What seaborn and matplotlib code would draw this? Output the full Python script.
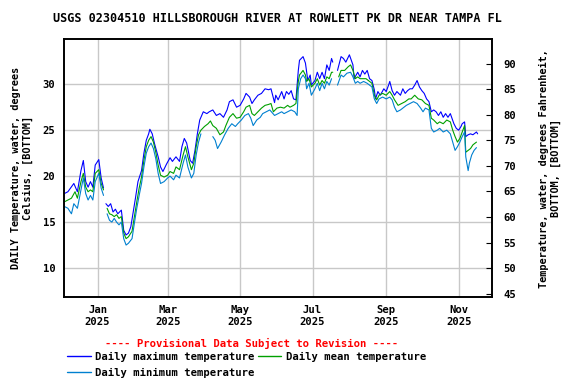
import matplotlib
matplotlib.use('Agg')
import matplotlib.pyplot as plt
import matplotlib.dates as mdates
from matplotlib.lines import Line2D
import seaborn as sns
import numpy as np
import pandas as pd

# day offsets from 2025-01-01, values in deg C (NaN = gap in record)
max_days = [-28, -25, -20, -17, -14, -12, -10, -8, -6, -4, -2, 1, 3, 5, 6, 7, 9, 11, 13, 15,
            17, 20, 22, 24, 26, 28, 30, 32, 34, 37, 39, 41, 43, 44, 46, 48, 51, 53, 55, 58,
            61, 63, 66, 69, 71, 73, 75, 78, 80, 82, 84, 86, 89, 92, 94, 97, 100, 103, 106, 109,
            111, 114, 117, 120, 123, 125, 128, 130, 132, 135, 138, 141, 144, 146, 149, 150, 152, 155, 157, 159,
            161, 163, 165, 167, 169, 170, 173, 175, 177, 179, 180, 183, 185, 187, 189, 191, 193, 195, 197, 198,
            200, 202, 205, 207, 209, 212, 215, 216, 219, 221, 223, 225, 227, 229, 231, 233, 234, 236, 238, 241,
            243, 245, 246, 248, 250, 252, 255, 257, 259, 261, 263, 265, 267, 269, 271, 273, 275, 277, 279, 281,
            283, 285, 287, 289, 291, 293, 295, 297, 300, 302, 304, 306, 307, 309, 310, 312, 314, 316, 319, 320]
max_temp = [18.1, 18.3, 19.2, 18.3, 20.6, 21.7, 19.4, 18.8, 19.4, 18.8, 21.2, 21.8, 19.8, 18.7, np.nan, 17.0, 16.7, 17.0, 16.1, 16.4,
            15.9, 16.3, 14.1, 13.6, 13.8, 14.5, 16.1, 17.7, 19.4, 20.6, 22.5, 23.9, 24.6, 25.1, 24.6, 23.5, 22.1, 21.0, 20.5, 21.3,
            22.0, 21.6, 22.1, 21.6, 23.2, 24.1, 23.6, 21.7, 21.4, 22.8, 24.6, 26.1, 27.0, 26.8, 27.0, 27.2, 26.6, 26.8, 26.4, 27.2,
            28.1, 28.3, 27.5, 27.7, 28.4, 29.0, 28.6, 27.9, 28.3, 28.8, 29.0, 29.5, 29.4, 29.5, 28.0, 28.8, 28.3, 29.2, 28.4, 29.2,
            28.9, 29.3, 28.4, 28.3, 31.5, 32.6, 33.0, 32.3, 30.4, 31.0, 29.9, 30.4, 31.3, 30.6, 31.3, 30.6, 32.1, 31.5, 32.8, 32.4,
            np.nan, 31.5, 33.0, 32.8, 32.4, 33.2, 32.1, 30.6, 31.3, 30.8, 31.5, 31.1, 31.5, 30.6, 30.4, 29.4, 28.4, 29.2, 28.8, 29.5,
            29.2, 29.9, 30.3, 29.3, 28.8, 29.2, 28.8, 29.5, 29.0, 29.3, 29.5, 29.5, 29.9, 30.4, 29.7, 29.3, 29.0, 28.4, 28.1, 27.0,
            27.2, 27.0, 26.6, 27.0, 26.4, 26.8, 26.4, 26.8, 25.7, 25.2, 25.0, 25.4, 25.7, 25.9, 24.3, 24.5, 24.6, 24.5, 24.8, 24.6]

mean_days = [-28, -25, -22, -19, -17, -14, -12, -10, -8, -6, -4, -2, 1, 3, 5, 6, 8, 10, 12, 14,
             16, 18, 20, 22, 24, 26, 29, 31, 33, 35, 37, 39, 41, 43, 45, 47, 49, 51, 53, 56,
             59, 61, 64, 66, 69, 72, 74, 76, 79, 81, 83, 85, 87, 90, 93, 95, 97, 100, 103, 106,
             108, 111, 114, 117, 120, 123, 125, 128, 130, 132, 135, 138, 141, 144, 146, 148, 151, 154, 157, 160,
             162, 165, 167, 169, 170, 173, 175, 176, 178, 180, 183, 185, 187, 189, 191, 193, 195, 197, 198, 200,
             203, 205, 208, 211, 213, 215, 217, 219, 221, 223, 226, 229, 231, 233, 235, 237, 240, 243, 246, 248,
             250, 253, 256, 259, 262, 264, 267, 270, 273, 276, 279, 281, 283, 286, 288, 291, 294, 297, 299, 301,
             303, 305, 307, 309, 310, 312, 314, 316, 319]
mean_temp = [17.2, 17.4, 17.6, 18.3, 17.6, 19.4, 20.3, 18.8, 18.3, 18.5, 18.3, 20.3, 20.7, 19.2, 18.5, np.nan, 16.5, 15.9, 15.8, 15.6,
             15.8, 15.4, 15.6, 13.8, 13.2, 13.4, 14.0, 15.6, 17.2, 18.7, 19.9, 21.7, 23.2, 23.9, 24.3, 23.7, 22.6, 21.2, 20.1, 19.9,
             20.1, 20.5, 20.3, 21.0, 20.7, 22.3, 23.2, 22.1, 20.7, 21.4, 23.2, 24.5, 25.0, 25.4, 25.7, 26.0, 25.5, 25.2, 24.5, 24.8,
             25.5, 26.4, 26.8, 26.3, 26.4, 27.0, 27.5, 27.7, 26.8, 26.6, 27.0, 27.4, 27.7, 27.8, 27.9, 27.0, 27.4, 27.5, 27.4, 27.7,
             27.5, 27.7, 27.9, 30.3, 31.0, 31.5, 31.0, 30.3, 30.6, 29.7, 30.1, 30.6, 29.9, 30.4, 30.1, 30.8, 30.6, 31.3, 31.3, np.nan,
             30.8, 31.5, 31.5, 31.9, 32.1, 31.5, 30.6, 30.8, 30.6, 30.6, 30.6, 30.3, 30.1, 28.8, 28.3, 28.8, 29.0, 28.8, 29.2, 28.8,
             28.3, 27.7, 27.9, 28.1, 28.4, 28.4, 28.8, 28.4, 28.3, 27.9, 27.7, 26.3, 26.1, 25.7, 25.9, 25.7, 26.1, 25.9, 25.0, 24.3,
             23.7, 24.1, 24.8, 25.5, 22.6, 22.8, 23.0, 23.4, 23.7]

min_days = [-28, -25, -22, -20, -17, -14, -12, -10, -8, -6, -4, -2, 1, 3, 5, 6, 8, 10, 12, 14,
            16, 18, 20, 22, 24, 26, 29, 31, 33, 35, 37, 39, 41, 43, 45, 47, 49, 51, 53, 56,
            59, 61, 64, 66, 69, 72, 74, 76, 79, 81, 83, 85, 87, 92, 97, 99, 101, 104, 107, 110,
            113, 116, 118, 121, 124, 127, 129, 131, 134, 137, 139, 142, 145, 149, 152, 155, 157, 160, 163, 166,
            168, 169, 171, 173, 175, 176, 178, 180, 183, 185, 187, 189, 191, 193, 195, 197, 200, 202, 205, 207,
            210, 213, 215, 217, 219, 221, 224, 227, 229, 231, 233, 235, 237, 240, 243, 246, 248, 250, 252, 255,
            257, 260, 263, 266, 269, 272, 274, 276, 279, 281, 283, 286, 288, 291, 294, 297, 299, 301, 303, 305,
            307, 309, 310, 312, 313, 315, 317, 319]
min_temp = [16.7, 16.5, 15.9, 17.0, 16.5, 18.5, 19.8, 18.1, 17.4, 17.9, 17.4, 19.4, 20.3, 18.7, 17.9, np.nan, 15.9, 15.2, 15.0, 15.4,
            15.0, 14.7, 15.0, 13.2, 12.5, 12.7, 13.2, 14.9, 16.5, 17.9, 19.2, 21.0, 22.5, 23.2, 23.6, 23.0, 21.9, 20.3, 19.2, 19.4,
            19.8, 20.0, 19.6, 20.1, 19.8, 21.4, 22.3, 21.0, 19.8, 20.3, 22.3, 23.7, 24.6, np.nan, 24.3, 23.9, 23.0, 23.7, 24.5, 25.2,
            25.7, 25.4, 25.7, 26.1, 26.6, 26.8, 26.3, 25.5, 26.1, 26.4, 26.8, 27.0, 27.2, 26.6, 26.8, 27.0, 26.8, 27.0, 27.2, 27.0,
            26.6, 29.5, 30.6, 31.0, 30.6, 29.5, 30.1, 28.8, 29.5, 30.1, 29.3, 30.1, 29.5, 30.3, 29.9, 30.6, np.nan, 29.9, 31.0, 30.8,
            31.2, 31.3, 30.8, 30.1, 30.3, 30.1, 30.3, 30.1, 29.9, 29.7, 28.4, 27.9, 28.4, 28.6, 28.4, 28.6, 28.3, 27.5, 27.0, 27.2,
            27.4, 27.7, 27.9, 28.1, 27.9, 27.4, 27.0, 27.4, 27.2, 25.2, 24.8, 25.0, 25.2, 24.8, 25.0, 24.6, 23.7, 22.8, 23.2, 23.7,
            24.3, 24.8, 22.1, 20.6, 21.4, 22.3, 22.8, 23.1]

series_names = ['Daily maximum temperature', 'Daily mean temperature', 'Daily minimum temperature']
series_colors = ['#0000ff', '#00a000', '#0080d0']

base = pd.Timestamp('2025-01-01')


def to_frame(days, temps, name):
    d = pd.DataFrame({'date': base + pd.to_timedelta(days, unit='D'), 'temp': temps})
    d['seg'] = d['temp'].isna().cumsum()
    d = d.dropna()
    d['series'] = name
    return d


df = pd.concat([to_frame(max_days, max_temp, series_names[0]),
                to_frame(mean_days, mean_temp, series_names[1]),
                to_frame(min_days, min_temp, series_names[2])], ignore_index=True)

sns.set_style('white')
plt.rcParams['font.family'] = 'DejaVu Sans Mono'
plt.rcParams['font.weight'] = 'bold'
plt.rcParams['text.color'] = 'black'
plt.rcParams['axes.labelcolor'] = 'black'
plt.rcParams['xtick.color'] = 'black'
plt.rcParams['ytick.color'] = 'black'

fig = plt.figure(figsize=(5.76, 3.84), dpi=100)
ax = fig.add_axes([0.111, 0.2266, 0.743, 0.6714])

sns.lineplot(data=df, x='date', y='temp', hue='series', units='seg', estimator=None,
             palette=dict(zip(series_names, series_colors)), linewidth=0.8,
             legend=False, ax=ax)

ylo, yhi = 6.85, 34.9
ax.set_ylim(ylo, yhi)
ax.set_xlim(pd.Timestamp('2024-12-03 16:00'), pd.Timestamp('2025-11-29'))
ax.set_yticks([10, 15, 20, 25, 30])
ax.xaxis.set_major_locator(mdates.MonthLocator(bymonth=[1, 3, 5, 7, 9, 11]))
ax.xaxis.set_major_formatter(mdates.DateFormatter('%b\n%Y'))
ax.grid(True, color='#c8c8c8', linewidth=1)
ax.tick_params(axis='both', length=0, labelsize=7.6, pad=6)
ax.set_xlabel('')
ax.set_ylabel('DAILY Temperature, water, degrees\nCelsius, [BOTTOM]', fontsize=7.4,
              fontweight='bold', labelpad=7)
for s in ax.spines.values():
    s.set_color('black')
    s.set_linewidth(1.2)

ax2 = ax.twinx()
ax2.set_ylim(ylo * 1.8 + 32, yhi * 1.8 + 32)
ax2.set_yticks(range(45, 95, 5))
ax2.tick_params(axis='y', direction='in', length=4, labelsize=7.6, pad=8)
ax2.set_ylabel('Temperature, water, degrees Fahrenheit,\nBOTTOM, [BOTTOM]', fontsize=7.4,
               fontweight='bold', labelpad=17)
for s in ax2.spines.values():
    s.set_color('black')
    s.set_linewidth(1.2)

fig.text(0.481, 0.953, 'USGS 02304510 HILLSBOROUGH RIVER AT ROWLETT PK DR NEAR TAMPA FL',
         ha='center', va='center', fontsize=8.45, fontweight='bold')
fig.text(0.436, 0.106, '---- Provisional Data Subject to Revision ----',
         ha='center', va='center', fontsize=7.7, fontweight='bold', color='red')

handles = [Line2D([], [], color=series_colors[0], linewidth=1),
           Line2D([], [], color=series_colors[2], linewidth=1),
           Line2D([], [], color=series_colors[1], linewidth=1)]
labels = [series_names[0], series_names[2], series_names[1]]
fig.legend(handles, labels, ncol=2, loc='upper left', bbox_to_anchor=(0.117, 0.083),
           frameon=False, fontsize=7.6, handlelength=2.2, handletextpad=0.45,
           columnspacing=0.3, borderaxespad=0, borderpad=0, labelspacing=0.55)

fig.savefig('out.png', dpi=100)
